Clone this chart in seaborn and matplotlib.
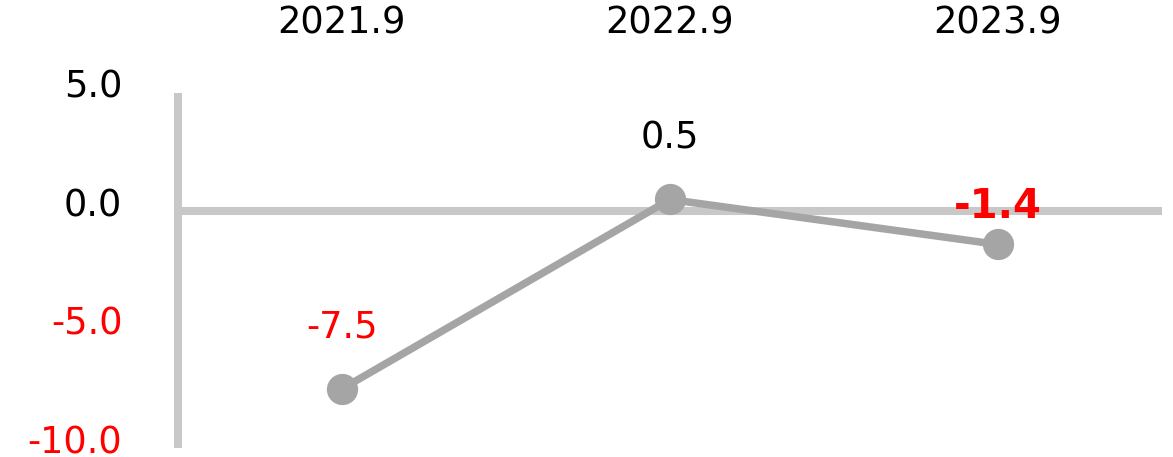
import matplotlib
matplotlib.use("Agg")
import matplotlib.pyplot as plt
import matplotlib.transforms as mtransforms
import seaborn as sns
import pandas as pd

periods = ["2021.9", "2022.9", "2023.9"]
values = [-7.5, 0.5, -1.4]
y_ticks = [5.0, 0.0, -5.0, -10.0]

LINE = "#a5a5a5"
AXIS = "#c8c8c8"
RED = "#ff0000"

sns.set_style("white")
plt.rcParams["font.family"] = ["DejaVu Sans"]

df = pd.DataFrame({"period": periods, "value": values})

fig = plt.figure(figsize=(11.73, 4.57), dpi=100)
W, H = 1173, 457
ax = fig.add_axes([178 / W, 1 - 448 / H, (1162 - 178) / W, (448 - 93) / H])

# zero reference line under the data
ax.axhline(0, color=AXIS, lw=5.8, zorder=1, clip_on=False,
           solid_capstyle="butt")

sns.lineplot(data=df, x="period", y="value", ax=ax, color=LINE, lw=5.4,
             marker="o", markersize=22.5, markeredgewidth=0,
             markerfacecolor=LINE, zorder=3, clip_on=False)

ax.set_xlim(-0.5, 2.5)
ax.set_ylim(-10, 5)

# spines: only the left one, thick and light grey
for side in ["top", "right", "bottom"]:
    ax.spines[side].set_visible(False)
ax.spines["left"].set_color(AXIS)
ax.spines["left"].set_linewidth(5.8)
ax.spines["left"].set_capstyle("butt")

# category labels along the top
ax.xaxis.tick_top()
ax.set_xticks(range(len(periods)))
ax.set_xticklabels(periods, fontsize=26.5, color="black")
ax.tick_params(axis="x", length=0, pad=37)
ax.set_xlabel("")
ax.set_ylabel("")

# y tick labels, negatives in red
ax.set_yticks(y_ticks)
ax.set_yticklabels([f"{t:.1f}" for t in y_ticks], fontsize=26.5)
ax.tick_params(axis="y", length=0, pad=40)
shift = mtransforms.ScaledTranslation(0, 9.5 / 100, fig.dpi_scale_trans)
for lab, t in zip(ax.get_yticklabels(), y_ticks):
    lab.set_color(RED if t < 0 else "black")
    lab.set_transform(lab.get_transform() + shift)

# value labels above each point
offsets = [62, 61, 37]
for i, (v, off) in enumerate(zip(values, offsets)):
    last = i == len(values) - 1
    ax.annotate(f"{v:.1f}", xy=(i, v), xytext=(0, off * 0.72),
                textcoords="offset points", ha="center", va="center",
                fontsize=29 if last else 26.5,
                color=RED if v < 0 else "black",
                fontweight="bold" if last else "normal", zorder=5)

ax.grid(False)
fig.savefig("out.png", dpi=100)
